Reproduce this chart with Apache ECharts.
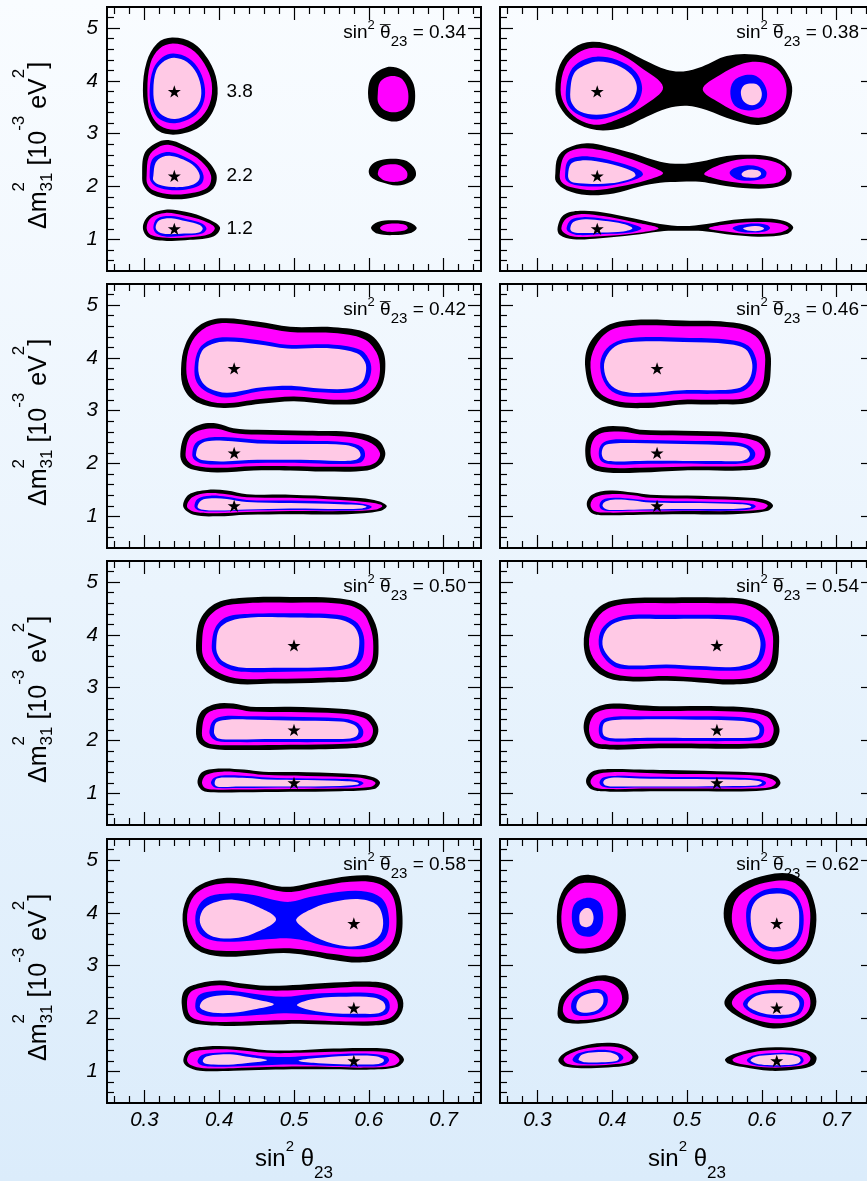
<!DOCTYPE html>
<html>
<head>
<meta charset="utf-8">
<script src="https://cdn.jsdelivr.net/npm/echarts@6/dist/echarts.min.js"></script>
<style>
  html, body { margin: 0; padding: 0; }
  #chart { width: 867px; height: 1181px; background: linear-gradient(to bottom, #f9fcff 0%, #dbecfb 100%); }
</style>
</head>
<body>
<div id="chart"></div>
<script>
// ---- panel parameters -------------------------------------------------------
const THETA_BAR = [0.34, 0.38, 0.42, 0.46, 0.50, 0.54, 0.58, 0.62];
const DM31_TRUE = [1.2, 2.2, 3.8];

// ---- axes ---------------------------------------------------------------------
const X_RANGE = [0.25, 0.75];
const Y_RANGE = [0.4, 5.4];
const X_MAJOR = [0.3, 0.4, 0.5, 0.6, 0.7];
const X_MINOR = [0.26, 0.28, 0.32, 0.34, 0.36, 0.38, 0.42, 0.44, 0.46, 0.48, 0.52, 0.54, 0.56, 0.58, 0.62, 0.64, 0.66, 0.68, 0.72, 0.74];
const Y_MAJOR = [1, 2, 3, 4, 5];
const Y_MINOR = [0.6, 0.8, 1.2, 1.4, 1.6, 1.8, 2.2, 2.4, 2.6, 2.8, 3.2, 3.4, 3.6, 3.8, 4.2, 4.4, 4.6, 4.8, 5.2];

// ---- allowed regions: [band, closed outline] ; band 3 = outermost ... 0 = innermost
const C034 = [
  [3, [[0.298,3.82],[0.303,4.36],[0.317,4.71],[0.337,4.82],[0.365,4.72],[0.386,4.39],[0.397,3.98],[0.395,3.54],[0.377,3.16],[0.346,2.99],[0.319,3.05],[0.303,3.38]]],
  [2, [[0.304,3.82],[0.308,4.33],[0.320,4.61],[0.338,4.71],[0.362,4.61],[0.380,4.33],[0.390,3.96],[0.387,3.56],[0.371,3.25],[0.345,3.08],[0.321,3.15],[0.308,3.41]]],
  [1, [[0.307,3.82],[0.312,4.23],[0.324,4.45],[0.339,4.52],[0.359,4.43],[0.374,4.19],[0.381,3.85],[0.378,3.55],[0.365,3.32],[0.341,3.20],[0.321,3.27],[0.310,3.48]]],
  [0, [[0.312,3.82],[0.316,4.20],[0.327,4.38],[0.340,4.44],[0.357,4.36],[0.370,4.14],[0.376,3.83],[0.373,3.57],[0.361,3.38],[0.341,3.28],[0.324,3.35],[0.315,3.52]]],
  [3, [[0.297,2.21],[0.300,2.62],[0.315,2.82],[0.332,2.88],[0.353,2.78],[0.379,2.56],[0.396,2.24],[0.392,1.96],[0.368,1.80],[0.337,1.76],[0.310,1.85],[0.299,2.02]]],
  [2, [[0.303,2.21],[0.306,2.57],[0.318,2.74],[0.332,2.79],[0.352,2.69],[0.376,2.48],[0.389,2.21],[0.385,1.99],[0.365,1.88],[0.337,1.85],[0.312,1.93],[0.304,2.05]]],
  [1, [[0.307,2.21],[0.310,2.50],[0.321,2.62],[0.335,2.65],[0.353,2.57],[0.370,2.42],[0.379,2.21],[0.376,2.05],[0.361,1.96],[0.337,1.93],[0.317,1.99],[0.309,2.09]]],
  [0, [[0.312,2.21],[0.315,2.45],[0.324,2.56],[0.336,2.58],[0.352,2.51],[0.367,2.38],[0.374,2.21],[0.371,2.09],[0.359,2.01],[0.337,1.99],[0.319,2.04],[0.312,2.12]]],
  [3, [[0.298,1.22],[0.306,1.45],[0.328,1.56],[0.355,1.52],[0.384,1.39],[0.401,1.23],[0.393,1.06],[0.361,0.99],[0.330,0.97],[0.306,1.03]]],
  [2, [[0.303,1.22],[0.309,1.41],[0.328,1.50],[0.353,1.45],[0.379,1.35],[0.394,1.22],[0.387,1.10],[0.361,1.04],[0.330,1.03],[0.309,1.08]]],
  [1, [[0.312,1.23],[0.317,1.39],[0.335,1.44],[0.357,1.38],[0.377,1.30],[0.383,1.20],[0.377,1.11],[0.355,1.07],[0.330,1.05],[0.316,1.11]]],
  [0, [[0.315,1.23],[0.320,1.36],[0.336,1.40],[0.356,1.34],[0.374,1.27],[0.378,1.20],[0.373,1.13],[0.353,1.11],[0.331,1.10],[0.319,1.14]]],
  [3, [[0.599,3.75],[0.604,4.07],[0.624,4.26],[0.644,4.21],[0.658,4.00],[0.662,3.73],[0.658,3.44],[0.640,3.24],[0.618,3.29],[0.604,3.48]]],
  [2, [[0.612,3.75],[0.615,3.98],[0.628,4.09],[0.642,4.06],[0.650,3.92],[0.653,3.71],[0.650,3.51],[0.638,3.41],[0.622,3.44],[0.613,3.57]]],
  [3, [[0.600,2.31],[0.607,2.45],[0.624,2.52],[0.647,2.50],[0.660,2.37],[0.663,2.21],[0.656,2.09],[0.638,2.02],[0.615,2.09],[0.603,2.18]]],
  [2, [[0.612,2.24],[0.616,2.37],[0.629,2.42],[0.642,2.40],[0.651,2.28],[0.650,2.15],[0.638,2.09],[0.622,2.11],[0.615,2.17]]],
  [3, [[0.603,1.22],[0.612,1.33],[0.633,1.36],[0.653,1.33],[0.664,1.22],[0.656,1.12],[0.633,1.08],[0.611,1.11]]],
  [2, [[0.615,1.22],[0.622,1.28],[0.636,1.30],[0.649,1.27],[0.652,1.21],[0.646,1.16],[0.631,1.14],[0.619,1.16]]]
];

const C038 = [
  [3, [[0.324,3.83],[0.330,4.30],[0.348,4.62],[0.373,4.74],[0.406,4.65],[0.442,4.40],[0.473,4.21],[0.495,4.18],[0.520,4.27],[0.553,4.47],[0.589,4.50],[0.620,4.37],[0.638,4.02],[0.640,3.73],[0.629,3.36],[0.598,3.17],[0.562,3.26],[0.526,3.45],[0.500,3.53],[0.473,3.48],[0.446,3.32],[0.415,3.12],[0.379,3.07],[0.348,3.23],[0.330,3.51]]],
  [2, [[0.331,3.83],[0.337,4.27],[0.353,4.52],[0.375,4.63],[0.406,4.54],[0.437,4.27],[0.468,3.88],[0.442,3.53],[0.410,3.29],[0.379,3.17],[0.353,3.29],[0.337,3.53]]],
  [2, [[0.521,3.84],[0.544,4.11],[0.575,4.33],[0.602,4.35],[0.624,4.18],[0.633,3.86],[0.627,3.51],[0.602,3.31],[0.575,3.36],[0.544,3.58]]],
  [1, [[0.338,3.80],[0.344,4.18],[0.359,4.38],[0.379,4.46],[0.406,4.40],[0.431,4.18],[0.440,3.86],[0.431,3.54],[0.406,3.36],[0.379,3.27],[0.355,3.36],[0.341,3.54]]],
  [1, [[0.558,3.75],[0.562,3.99],[0.578,4.11],[0.593,4.09],[0.604,3.92],[0.607,3.70],[0.600,3.51],[0.582,3.44],[0.564,3.53]]],
  [0, [[0.344,3.80],[0.349,4.14],[0.364,4.30],[0.382,4.37],[0.406,4.30],[0.426,4.11],[0.433,3.86],[0.425,3.59],[0.404,3.42],[0.379,3.36],[0.357,3.42],[0.346,3.58]]],
  [0, [[0.572,3.77],[0.575,3.90],[0.584,3.95],[0.595,3.92],[0.600,3.77],[0.597,3.61],[0.587,3.54],[0.576,3.61]]],
  [3, [[0.324,2.25],[0.327,2.55],[0.339,2.72],[0.366,2.82],[0.393,2.76],[0.428,2.63],[0.464,2.47],[0.491,2.43],[0.517,2.47],[0.553,2.58],[0.589,2.60],[0.620,2.53],[0.639,2.31],[0.636,2.09],[0.611,1.97],[0.575,1.97],[0.544,2.03],[0.517,2.09],[0.491,2.09],[0.464,2.07],[0.437,2.00],[0.402,1.87],[0.366,1.84],[0.339,1.93],[0.325,2.09]]],
  [2, [[0.330,2.25],[0.337,2.60],[0.357,2.72],[0.384,2.69],[0.419,2.55],[0.451,2.38],[0.468,2.25],[0.446,2.12],[0.410,2.00],[0.375,1.93],[0.344,1.99],[0.332,2.09]]],
  [2, [[0.523,2.24],[0.544,2.41],[0.575,2.52],[0.607,2.50],[0.629,2.38],[0.632,2.22],[0.620,2.07],[0.589,2.05],[0.558,2.09],[0.535,2.16]]],
  [1, [[0.337,2.22],[0.341,2.49],[0.357,2.57],[0.379,2.55],[0.410,2.45],[0.437,2.31],[0.441,2.22],[0.428,2.12],[0.402,2.03],[0.375,2.00],[0.350,2.03],[0.339,2.11]]],
  [1, [[0.557,2.25],[0.562,2.34],[0.578,2.40],[0.595,2.38],[0.606,2.28],[0.603,2.16],[0.584,2.11],[0.566,2.14]]],
  [0, [[0.341,2.22],[0.345,2.43],[0.357,2.49],[0.379,2.48],[0.408,2.39],[0.428,2.28],[0.431,2.20],[0.419,2.12],[0.397,2.06],[0.373,2.05],[0.350,2.07],[0.343,2.12]]],
  [0, [[0.573,2.24],[0.578,2.30],[0.587,2.32],[0.597,2.29],[0.599,2.23],[0.592,2.17],[0.582,2.17],[0.575,2.19]]],
  [3, [[0.327,1.22],[0.335,1.46],[0.357,1.54],[0.388,1.51],[0.428,1.40],[0.464,1.29],[0.495,1.25],[0.526,1.29],[0.562,1.37],[0.598,1.40],[0.629,1.35],[0.642,1.23],[0.633,1.10],[0.598,1.05],[0.562,1.08],[0.526,1.15],[0.495,1.16],[0.464,1.15],[0.428,1.08],[0.384,1.02],[0.348,1.00],[0.330,1.08]]],
  [2, [[0.332,1.21],[0.339,1.40],[0.359,1.48],[0.388,1.44],[0.428,1.33],[0.462,1.21],[0.428,1.11],[0.384,1.06],[0.350,1.05],[0.337,1.11]]],
  [2, [[0.529,1.21],[0.562,1.30],[0.598,1.33],[0.624,1.30],[0.636,1.22],[0.624,1.13],[0.593,1.10],[0.562,1.13]]],
  [1, [[0.339,1.21],[0.345,1.37],[0.361,1.42],[0.388,1.39],[0.419,1.32],[0.439,1.21],[0.424,1.13],[0.388,1.10],[0.355,1.08],[0.343,1.13]]],
  [1, [[0.561,1.21],[0.571,1.27],[0.591,1.30],[0.607,1.27],[0.611,1.21],[0.604,1.15],[0.587,1.13],[0.569,1.15]]],
  [0, [[0.344,1.21],[0.348,1.33],[0.364,1.38],[0.388,1.35],[0.415,1.29],[0.427,1.21],[0.415,1.15],[0.386,1.13],[0.357,1.12],[0.346,1.15]]],
  [0, [[0.575,1.21],[0.582,1.24],[0.592,1.25],[0.601,1.23],[0.603,1.20],[0.597,1.16],[0.584,1.16],[0.578,1.18]]]
];

const C042 = [
  [3, [[0.349,3.79],[0.355,4.26],[0.373,4.61],[0.402,4.75],[0.451,4.69],[0.495,4.59],[0.553,4.58],[0.598,4.47],[0.618,4.17],[0.622,3.79],[0.615,3.41],[0.593,3.16],[0.553,3.12],[0.500,3.18],[0.455,3.13],[0.406,3.05],[0.370,3.16],[0.353,3.41]]],
  [2, [[0.356,3.79],[0.361,4.23],[0.377,4.53],[0.404,4.66],[0.451,4.59],[0.495,4.49],[0.553,4.47],[0.593,4.36],[0.610,4.11],[0.615,3.79],[0.609,3.46],[0.589,3.25],[0.553,3.21],[0.500,3.27],[0.455,3.22],[0.406,3.14],[0.375,3.24],[0.361,3.46]]],
  [1, [[0.367,3.82],[0.373,4.17],[0.388,4.34],[0.410,4.39],[0.451,4.34],[0.491,4.25],[0.553,4.25],[0.589,4.15],[0.601,3.95],[0.603,3.73],[0.595,3.48],[0.575,3.35],[0.535,3.35],[0.500,3.39],[0.455,3.37],[0.410,3.25],[0.384,3.35],[0.370,3.54]]],
  [0, [[0.372,3.82],[0.377,4.13],[0.390,4.26],[0.411,4.31],[0.451,4.26],[0.491,4.18],[0.551,4.18],[0.584,4.09],[0.595,3.92],[0.596,3.73],[0.590,3.52],[0.573,3.42],[0.535,3.42],[0.500,3.47],[0.455,3.44],[0.411,3.34],[0.387,3.42],[0.376,3.57]]],
  [3, [[0.348,2.18],[0.355,2.56],[0.375,2.74],[0.397,2.76],[0.419,2.67],[0.451,2.64],[0.517,2.62],[0.580,2.59],[0.611,2.46],[0.622,2.21],[0.616,1.99],[0.598,1.87],[0.540,1.85],[0.495,1.87],[0.446,1.87],[0.397,1.83],[0.366,1.88],[0.352,1.99]]],
  [2, [[0.355,2.18],[0.361,2.51],[0.377,2.64],[0.397,2.66],[0.419,2.58],[0.451,2.55],[0.517,2.53],[0.575,2.50],[0.604,2.38],[0.615,2.19],[0.609,2.02],[0.593,1.95],[0.540,1.94],[0.495,1.95],[0.446,1.95],[0.397,1.92],[0.368,1.96],[0.358,2.05]]],
  [1, [[0.364,2.17],[0.368,2.38],[0.382,2.48],[0.406,2.50],[0.451,2.45],[0.517,2.43],[0.571,2.40],[0.591,2.31],[0.595,2.15],[0.589,2.02],[0.562,1.99],[0.509,2.01],[0.451,2.01],[0.406,1.98],[0.377,2.00],[0.367,2.07]]],
  [0, [[0.369,2.17],[0.373,2.34],[0.384,2.42],[0.406,2.43],[0.451,2.38],[0.517,2.37],[0.569,2.35],[0.585,2.27],[0.589,2.15],[0.583,2.07],[0.562,2.05],[0.509,2.07],[0.451,2.07],[0.406,2.04],[0.379,2.06],[0.371,2.11]]],
  [3, [[0.352,1.18],[0.359,1.41],[0.384,1.50],[0.410,1.49],[0.437,1.42],[0.495,1.41],[0.562,1.37],[0.607,1.31],[0.624,1.20],[0.615,1.10],[0.571,1.04],[0.495,1.04],[0.437,1.03],[0.397,1.00],[0.366,1.03]]],
  [2, [[0.357,1.18],[0.364,1.36],[0.384,1.44],[0.410,1.42],[0.437,1.36],[0.495,1.35],[0.562,1.31],[0.602,1.26],[0.618,1.20],[0.610,1.13],[0.571,1.10],[0.495,1.10],[0.437,1.08],[0.397,1.06],[0.368,1.08]]],
  [1, [[0.367,1.18],[0.371,1.33],[0.388,1.39],[0.410,1.37],[0.437,1.31],[0.495,1.30],[0.562,1.27],[0.595,1.23],[0.604,1.18],[0.597,1.13],[0.562,1.11],[0.495,1.12],[0.437,1.11],[0.397,1.09],[0.373,1.11]]],
  [0, [[0.371,1.18],[0.376,1.30],[0.390,1.34],[0.410,1.33],[0.437,1.27],[0.495,1.25],[0.562,1.23],[0.591,1.21],[0.597,1.18],[0.591,1.15],[0.562,1.14],[0.495,1.15],[0.437,1.13],[0.397,1.11],[0.376,1.13]]]
];

const C046 = [
  [3, [[0.364,3.82],[0.369,4.26],[0.393,4.61],[0.428,4.72],[0.495,4.71],[0.562,4.67],[0.595,4.52],[0.610,4.17],[0.612,3.79],[0.607,3.41],[0.586,3.16],[0.540,3.12],[0.495,3.12],[0.442,3.05],[0.402,3.10],[0.375,3.32]]],
  [2, [[0.371,3.82],[0.377,4.21],[0.397,4.52],[0.428,4.61],[0.495,4.60],[0.562,4.57],[0.591,4.42],[0.603,4.14],[0.604,3.79],[0.599,3.44],[0.582,3.25],[0.540,3.21],[0.495,3.21],[0.442,3.15],[0.404,3.19],[0.381,3.38]]],
  [1, [[0.384,3.82],[0.389,4.11],[0.406,4.31],[0.437,4.39],[0.495,4.38],[0.558,4.34],[0.582,4.23],[0.592,4.00],[0.593,3.76],[0.587,3.51],[0.571,3.35],[0.535,3.32],[0.495,3.32],[0.446,3.27],[0.410,3.30],[0.392,3.48]]],
  [0, [[0.389,3.82],[0.394,4.07],[0.408,4.25],[0.437,4.31],[0.495,4.30],[0.557,4.26],[0.578,4.17],[0.586,3.97],[0.587,3.76],[0.581,3.54],[0.567,3.42],[0.535,3.39],[0.495,3.39],[0.446,3.34],[0.413,3.37],[0.396,3.52]]],
  [3, [[0.364,2.21],[0.369,2.53],[0.388,2.69],[0.415,2.70],[0.437,2.64],[0.495,2.62],[0.562,2.59],[0.598,2.50],[0.610,2.31],[0.611,2.12],[0.602,1.93],[0.571,1.87],[0.495,1.87],[0.437,1.83],[0.393,1.83],[0.370,1.93]]],
  [2, [[0.371,2.21],[0.376,2.48],[0.390,2.59],[0.415,2.60],[0.437,2.55],[0.495,2.53],[0.562,2.50],[0.593,2.42],[0.603,2.28],[0.603,2.12],[0.595,1.99],[0.571,1.95],[0.495,1.94],[0.437,1.92],[0.395,1.92],[0.377,1.99]]],
  [1, [[0.382,2.19],[0.386,2.37],[0.400,2.45],[0.428,2.45],[0.495,2.43],[0.562,2.41],[0.582,2.34],[0.591,2.21],[0.589,2.09],[0.578,2.01],[0.540,1.99],[0.495,2.00],[0.437,1.99],[0.402,1.98],[0.386,2.04]]],
  [0, [[0.386,2.19],[0.390,2.34],[0.402,2.38],[0.428,2.39],[0.495,2.37],[0.562,2.34],[0.579,2.29],[0.584,2.19],[0.582,2.11],[0.573,2.05],[0.540,2.05],[0.495,2.05],[0.437,2.05],[0.404,2.04],[0.390,2.07]]],
  [3, [[0.366,1.23],[0.373,1.41],[0.397,1.49],[0.428,1.45],[0.451,1.41],[0.517,1.39],[0.584,1.35],[0.607,1.30],[0.615,1.20],[0.607,1.10],[0.562,1.04],[0.495,1.04],[0.437,1.03],[0.393,1.02],[0.373,1.06]]],
  [2, [[0.371,1.22],[0.377,1.36],[0.397,1.42],[0.428,1.40],[0.451,1.35],[0.517,1.33],[0.584,1.30],[0.602,1.25],[0.608,1.20],[0.601,1.13],[0.562,1.10],[0.495,1.10],[0.437,1.08],[0.393,1.07],[0.376,1.10]]],
  [1, [[0.383,1.21],[0.387,1.31],[0.402,1.35],[0.428,1.33],[0.451,1.30],[0.517,1.28],[0.571,1.26],[0.588,1.23],[0.592,1.19],[0.587,1.14],[0.562,1.11],[0.495,1.11],[0.437,1.11],[0.397,1.10],[0.386,1.13]]],
  [0, [[0.387,1.21],[0.391,1.28],[0.404,1.32],[0.428,1.30],[0.451,1.26],[0.517,1.25],[0.571,1.23],[0.583,1.21],[0.586,1.18],[0.582,1.16],[0.562,1.14],[0.495,1.14],[0.437,1.13],[0.399,1.12],[0.390,1.15]]]
];

const C050 = [
  [3, [[0.369,3.79],[0.375,4.30],[0.397,4.61],[0.437,4.71],[0.495,4.72],[0.562,4.69],[0.593,4.55],[0.609,4.20],[0.613,3.79],[0.609,3.41],[0.589,3.16],[0.540,3.10],[0.473,3.08],[0.419,3.08],[0.388,3.25],[0.373,3.51]]],
  [2, [[0.377,3.79],[0.382,4.25],[0.402,4.52],[0.437,4.60],[0.495,4.61],[0.562,4.59],[0.590,4.45],[0.602,4.15],[0.606,3.79],[0.602,3.44],[0.584,3.24],[0.540,3.19],[0.473,3.17],[0.422,3.18],[0.394,3.33],[0.380,3.54]]],
  [1, [[0.390,3.79],[0.395,4.14],[0.410,4.34],[0.442,4.40],[0.495,4.41],[0.558,4.38],[0.582,4.26],[0.592,4.04],[0.594,3.77],[0.590,3.52],[0.575,3.37],[0.540,3.32],[0.473,3.30],[0.424,3.31],[0.402,3.43],[0.393,3.60]]],
  [0, [[0.396,3.79],[0.400,4.11],[0.414,4.26],[0.442,4.33],[0.495,4.33],[0.557,4.30],[0.578,4.19],[0.586,4.01],[0.587,3.77],[0.583,3.56],[0.572,3.44],[0.540,3.39],[0.473,3.38],[0.426,3.39],[0.406,3.49],[0.398,3.63]]],
  [3, [[0.369,2.18],[0.375,2.53],[0.395,2.69],[0.419,2.70],[0.442,2.64],[0.495,2.64],[0.562,2.60],[0.598,2.51],[0.611,2.31],[0.612,2.12],[0.602,1.92],[0.571,1.85],[0.495,1.83],[0.428,1.82],[0.388,1.85],[0.373,1.96]]],
  [2, [[0.377,2.18],[0.382,2.48],[0.397,2.59],[0.419,2.60],[0.442,2.55],[0.495,2.54],[0.562,2.51],[0.593,2.43],[0.604,2.28],[0.605,2.12],[0.597,1.98],[0.571,1.94],[0.495,1.92],[0.428,1.91],[0.390,1.93],[0.379,2.02]]],
  [1, [[0.387,2.18],[0.392,2.38],[0.406,2.46],[0.437,2.46],[0.495,2.45],[0.562,2.42],[0.583,2.35],[0.592,2.21],[0.591,2.07],[0.580,1.99],[0.540,1.97],[0.473,1.97],[0.419,1.97],[0.397,1.99],[0.389,2.07]]],
  [0, [[0.393,2.18],[0.396,2.34],[0.408,2.39],[0.437,2.40],[0.495,2.38],[0.562,2.36],[0.580,2.30],[0.586,2.20],[0.584,2.09],[0.575,2.04],[0.540,2.03],[0.473,2.03],[0.419,2.02],[0.399,2.04],[0.394,2.11]]],
  [3, [[0.371,1.22],[0.378,1.41],[0.402,1.47],[0.433,1.45],[0.459,1.41],[0.517,1.40],[0.584,1.36],[0.607,1.30],[0.615,1.20],[0.607,1.08],[0.562,1.04],[0.495,1.03],[0.428,1.02],[0.393,1.02],[0.377,1.06]]],
  [2, [[0.377,1.21],[0.383,1.35],[0.404,1.41],[0.433,1.39],[0.459,1.35],[0.517,1.33],[0.584,1.30],[0.603,1.25],[0.609,1.19],[0.602,1.12],[0.562,1.09],[0.495,1.08],[0.428,1.07],[0.393,1.07],[0.381,1.10]]],
  [1, [[0.389,1.21],[0.394,1.30],[0.408,1.34],[0.437,1.33],[0.464,1.30],[0.517,1.28],[0.571,1.27],[0.589,1.23],[0.593,1.19],[0.587,1.14],[0.562,1.11],[0.495,1.11],[0.428,1.10],[0.399,1.10],[0.392,1.13]]],
  [0, [[0.394,1.21],[0.397,1.28],[0.410,1.30],[0.437,1.29],[0.464,1.26],[0.517,1.25],[0.571,1.23],[0.584,1.21],[0.587,1.18],[0.583,1.16],[0.562,1.14],[0.495,1.13],[0.428,1.13],[0.402,1.12],[0.395,1.15]]]
];

const C054 = [
  [3, [[0.362,3.82],[0.368,4.26],[0.388,4.58],[0.419,4.69],[0.473,4.71],[0.540,4.71],[0.580,4.67],[0.607,4.49],[0.621,4.14],[0.623,3.79],[0.618,3.38],[0.598,3.13],[0.562,3.06],[0.517,3.10],[0.473,3.13],[0.428,3.12],[0.393,3.19],[0.370,3.44]]],
  [2, [[0.369,3.82],[0.375,4.21],[0.393,4.49],[0.422,4.59],[0.473,4.60],[0.540,4.60],[0.578,4.57],[0.602,4.39],[0.613,4.11],[0.615,3.79],[0.610,3.43],[0.593,3.22],[0.562,3.16],[0.517,3.19],[0.473,3.22],[0.428,3.21],[0.396,3.29],[0.378,3.49]]],
  [1, [[0.382,3.82],[0.386,4.11],[0.402,4.30],[0.428,4.38],[0.473,4.38],[0.540,4.38],[0.575,4.34],[0.594,4.20],[0.603,3.98],[0.605,3.76],[0.599,3.51],[0.584,3.36],[0.558,3.32],[0.517,3.34],[0.473,3.37],[0.428,3.35],[0.404,3.39],[0.389,3.57]]],
  [0, [[0.387,3.82],[0.391,4.07],[0.404,4.23],[0.428,4.30],[0.473,4.30],[0.540,4.30],[0.573,4.26],[0.590,4.14],[0.597,3.95],[0.598,3.76],[0.593,3.54],[0.581,3.44],[0.558,3.39],[0.517,3.41],[0.473,3.44],[0.428,3.42],[0.406,3.47],[0.394,3.61]]],
  [3, [[0.362,2.21],[0.368,2.53],[0.386,2.67],[0.410,2.70],[0.437,2.67],[0.473,2.65],[0.540,2.65],[0.584,2.62],[0.611,2.53],[0.622,2.31],[0.623,2.12],[0.613,1.90],[0.580,1.85],[0.517,1.85],[0.451,1.85],[0.397,1.83],[0.373,1.90]]],
  [2, [[0.369,2.21],[0.375,2.48],[0.388,2.58],[0.410,2.60],[0.437,2.57],[0.473,2.56],[0.540,2.56],[0.584,2.53],[0.607,2.45],[0.615,2.28],[0.615,2.12],[0.608,1.98],[0.580,1.94],[0.517,1.94],[0.451,1.94],[0.397,1.92],[0.376,1.97]]],
  [1, [[0.382,2.19],[0.386,2.38],[0.402,2.45],[0.437,2.46],[0.495,2.46],[0.562,2.45],[0.591,2.40],[0.602,2.28],[0.602,2.11],[0.593,2.01],[0.562,1.99],[0.495,1.99],[0.437,1.99],[0.402,1.98],[0.386,2.04]]],
  [0, [[0.387,2.19],[0.390,2.34],[0.404,2.39],[0.437,2.40],[0.495,2.40],[0.562,2.38],[0.588,2.34],[0.596,2.26],[0.596,2.12],[0.589,2.06],[0.562,2.05],[0.495,2.05],[0.437,2.05],[0.404,2.04],[0.390,2.08]]],
  [3, [[0.365,1.23],[0.373,1.41],[0.397,1.46],[0.437,1.45],[0.473,1.44],[0.540,1.42],[0.598,1.39],[0.618,1.33],[0.625,1.20],[0.618,1.09],[0.584,1.04],[0.517,1.04],[0.451,1.04],[0.397,1.03],[0.373,1.07]]],
  [2, [[0.371,1.22],[0.378,1.35],[0.399,1.40],[0.437,1.39],[0.473,1.37],[0.540,1.36],[0.598,1.33],[0.613,1.27],[0.619,1.20],[0.612,1.12],[0.584,1.09],[0.517,1.09],[0.451,1.09],[0.397,1.08],[0.377,1.11]]],
  [1, [[0.383,1.21],[0.388,1.30],[0.404,1.33],[0.437,1.32],[0.495,1.31],[0.562,1.30],[0.595,1.27],[0.605,1.22],[0.605,1.17],[0.598,1.13],[0.562,1.11],[0.495,1.11],[0.437,1.11],[0.402,1.10],[0.387,1.13]]],
  [0, [[0.388,1.21],[0.392,1.27],[0.406,1.30],[0.437,1.28],[0.495,1.27],[0.562,1.26],[0.593,1.24],[0.600,1.21],[0.599,1.18],[0.593,1.15],[0.562,1.14],[0.495,1.13],[0.437,1.13],[0.404,1.13],[0.391,1.15]]]
];

const C058 = [
  [3, [[0.351,3.87],[0.357,4.28],[0.374,4.53],[0.406,4.66],[0.446,4.62],[0.477,4.51],[0.499,4.50],[0.530,4.59],[0.575,4.70],[0.615,4.67],[0.637,4.43],[0.645,3.93],[0.640,3.42],[0.619,3.14],[0.588,3.06],[0.553,3.11],[0.517,3.20],[0.486,3.24],[0.446,3.20],[0.410,3.17],[0.379,3.24],[0.359,3.46]]],
  [2, [[0.357,3.87],[0.363,4.25],[0.380,4.47],[0.410,4.56],[0.446,4.52],[0.477,4.42],[0.499,4.40],[0.530,4.49],[0.575,4.59],[0.611,4.56],[0.631,4.34],[0.637,3.90],[0.632,3.46],[0.613,3.24],[0.586,3.17],[0.553,3.22],[0.517,3.30],[0.486,3.33],[0.446,3.30],[0.410,3.28],[0.381,3.33],[0.365,3.52]]],
  [1, [[0.368,3.87],[0.373,4.15],[0.388,4.32],[0.414,4.37],[0.446,4.34],[0.472,4.25],[0.495,4.21],[0.521,4.30],[0.562,4.40],[0.597,4.40],[0.619,4.25],[0.627,3.90],[0.623,3.55],[0.606,3.36],[0.579,3.31],[0.544,3.37],[0.513,3.48],[0.490,3.52],[0.464,3.50],[0.428,3.46],[0.392,3.48],[0.374,3.61]]],
  [0, [[0.374,3.87],[0.380,4.09],[0.397,4.21],[0.419,4.25],[0.446,4.15],[0.476,3.88],[0.446,3.61],[0.419,3.52],[0.392,3.55],[0.379,3.68]]],
  [0, [[0.503,3.88],[0.526,4.09],[0.553,4.21],[0.588,4.26],[0.611,4.15],[0.619,3.87],[0.615,3.58],[0.597,3.41],[0.570,3.37],[0.535,3.50],[0.513,3.71]]],
  [3, [[0.350,2.26],[0.354,2.54],[0.374,2.67],[0.401,2.72],[0.428,2.67],[0.464,2.62],[0.508,2.64],[0.553,2.68],[0.597,2.70],[0.628,2.64],[0.644,2.41],[0.645,2.16],[0.633,1.94],[0.606,1.87],[0.553,1.88],[0.508,1.90],[0.464,1.88],[0.419,1.86],[0.379,1.88],[0.357,1.97]]],
  [2, [[0.357,2.26],[0.361,2.49],[0.379,2.59],[0.401,2.63],[0.428,2.58],[0.464,2.53],[0.508,2.54],[0.553,2.58],[0.597,2.60],[0.624,2.54],[0.637,2.36],[0.638,2.16],[0.627,2.00],[0.604,1.95],[0.553,1.95],[0.508,1.97],[0.464,1.96],[0.419,1.94],[0.381,1.95],[0.362,2.04]]],
  [1, [[0.368,2.23],[0.372,2.43],[0.388,2.51],[0.410,2.53],[0.446,2.47],[0.486,2.41],[0.526,2.47],[0.570,2.49],[0.606,2.48],[0.624,2.38],[0.628,2.21],[0.622,2.07],[0.597,2.02],[0.553,2.04],[0.508,2.09],[0.486,2.10],[0.455,2.07],[0.419,2.04],[0.388,2.04],[0.372,2.11]]],
  [0, [[0.374,2.23],[0.380,2.36],[0.397,2.43],[0.419,2.44],[0.446,2.37],[0.473,2.27],[0.446,2.17],[0.419,2.11],[0.392,2.11],[0.379,2.16]]],
  [0, [[0.504,2.26],[0.530,2.38],[0.570,2.41],[0.606,2.40],[0.619,2.32],[0.622,2.19],[0.613,2.10],[0.588,2.09],[0.553,2.10],[0.521,2.16]]],
  [3, [[0.352,1.21],[0.359,1.40],[0.383,1.47],[0.419,1.47],[0.464,1.40],[0.508,1.40],[0.553,1.43],[0.597,1.44],[0.633,1.40],[0.647,1.23],[0.637,1.08],[0.597,1.03],[0.553,1.04],[0.508,1.04],[0.464,1.03],[0.419,1.01],[0.374,1.01],[0.357,1.09]]],
  [2, [[0.357,1.21],[0.363,1.36],[0.386,1.41],[0.419,1.41],[0.464,1.35],[0.508,1.35],[0.553,1.37],[0.597,1.38],[0.631,1.34],[0.641,1.21],[0.633,1.11],[0.597,1.07],[0.553,1.08],[0.508,1.09],[0.464,1.08],[0.419,1.06],[0.379,1.06],[0.362,1.12]]],
  [1, [[0.371,1.20],[0.377,1.31],[0.397,1.35],[0.419,1.36],[0.455,1.29],[0.486,1.27],[0.517,1.29],[0.562,1.33],[0.606,1.33],[0.624,1.28],[0.627,1.20],[0.619,1.11],[0.588,1.09],[0.553,1.10],[0.517,1.12],[0.486,1.13],[0.455,1.11],[0.419,1.09],[0.388,1.09],[0.374,1.13]]],
  [0, [[0.378,1.20],[0.383,1.28],[0.401,1.32],[0.419,1.32],[0.441,1.27],[0.464,1.21],[0.441,1.16],[0.419,1.13],[0.392,1.13],[0.381,1.15]]],
  [0, [[0.506,1.20],[0.530,1.25],[0.570,1.29],[0.606,1.29],[0.619,1.24],[0.620,1.19],[0.613,1.14],[0.588,1.13],[0.553,1.14],[0.526,1.16]]]
];

const C062 = [
  [3, [[0.326,3.93],[0.332,4.37],[0.350,4.66],[0.370,4.72],[0.393,4.62],[0.410,4.40],[0.418,4.06],[0.415,3.68],[0.399,3.36],[0.370,3.24],[0.344,3.27],[0.330,3.52]]],
  [2, [[0.332,3.93],[0.338,4.31],[0.353,4.53],[0.370,4.57],[0.390,4.51],[0.404,4.28],[0.407,3.96],[0.402,3.65],[0.388,3.42],[0.366,3.33],[0.346,3.37],[0.336,3.58]]],
  [1, [[0.346,3.92],[0.349,4.15],[0.359,4.26],[0.373,4.28],[0.384,4.18],[0.388,3.92],[0.384,3.68],[0.373,3.56],[0.357,3.58],[0.349,3.71]]],
  [0, [[0.356,3.92],[0.358,4.02],[0.364,4.09],[0.371,4.07],[0.375,3.93],[0.373,3.79],[0.366,3.73],[0.358,3.77]]],
  [3, [[0.549,3.99],[0.555,4.31],[0.575,4.56],[0.607,4.72],[0.638,4.74],[0.658,4.56],[0.669,4.25],[0.673,3.87],[0.667,3.42],[0.651,3.14],[0.624,3.03],[0.598,3.11],[0.571,3.36],[0.554,3.68]]],
  [2, [[0.560,3.96],[0.566,4.26],[0.584,4.47],[0.611,4.59],[0.640,4.59],[0.656,4.40],[0.664,4.09],[0.664,3.74],[0.658,3.39],[0.640,3.17],[0.620,3.12],[0.598,3.20],[0.575,3.42],[0.563,3.68]]],
  [1, [[0.579,3.93],[0.583,4.21],[0.598,4.40],[0.620,4.47],[0.640,4.40],[0.652,4.18],[0.656,3.87],[0.652,3.55],[0.638,3.33],[0.615,3.27],[0.598,3.35],[0.584,3.58]]],
  [0, [[0.585,3.92],[0.589,4.17],[0.601,4.32],[0.620,4.37],[0.638,4.32],[0.648,4.13],[0.650,3.87],[0.647,3.58],[0.634,3.41],[0.615,3.35],[0.600,3.42],[0.589,3.61]]],
  [3, [[0.327,2.13],[0.332,2.41],[0.353,2.67],[0.379,2.81],[0.402,2.79],[0.417,2.64],[0.422,2.38],[0.415,2.16],[0.397,2.00],[0.366,1.91],[0.339,1.92],[0.329,2.00]]],
  [2, [[0.334,2.15],[0.339,2.38],[0.357,2.60],[0.379,2.71],[0.397,2.68],[0.410,2.54],[0.413,2.32],[0.404,2.13],[0.386,2.02],[0.361,1.97],[0.341,2.00]]],
  [1, [[0.345,2.23],[0.350,2.41],[0.366,2.53],[0.384,2.55],[0.393,2.45],[0.393,2.26],[0.383,2.11],[0.366,2.05],[0.350,2.08]]],
  [0, [[0.352,2.23],[0.356,2.38],[0.368,2.47],[0.383,2.48],[0.388,2.40],[0.387,2.26],[0.379,2.15],[0.366,2.11],[0.355,2.14]]],
  [3, [[0.550,2.29],[0.560,2.51],[0.584,2.67],[0.615,2.74],[0.647,2.72],[0.667,2.57],[0.673,2.32],[0.667,2.07],[0.647,1.88],[0.615,1.81],[0.589,1.90],[0.562,2.09]]],
  [2, [[0.560,2.29],[0.569,2.48],[0.589,2.59],[0.615,2.64],[0.644,2.62],[0.661,2.49],[0.665,2.29],[0.660,2.10],[0.644,1.96],[0.618,1.91],[0.593,1.97],[0.571,2.12]]],
  [1, [[0.575,2.26],[0.582,2.41],[0.598,2.51],[0.620,2.54],[0.642,2.51],[0.655,2.38],[0.656,2.23],[0.649,2.07],[0.629,2.00],[0.607,2.02],[0.587,2.10]]],
  [0, [[0.581,2.25],[0.587,2.38],[0.600,2.46],[0.620,2.48],[0.640,2.45],[0.649,2.35],[0.650,2.23],[0.644,2.11],[0.627,2.07],[0.607,2.08],[0.591,2.15]]],
  [3, [[0.328,1.21],[0.339,1.37],[0.366,1.50],[0.397,1.54],[0.419,1.48],[0.435,1.28],[0.428,1.15],[0.402,1.08],[0.366,1.06],[0.337,1.09]]],
  [2, [[0.335,1.23],[0.345,1.34],[0.368,1.44],[0.397,1.47],[0.416,1.42],[0.427,1.28],[0.422,1.18],[0.399,1.13],[0.366,1.11],[0.341,1.14]]],
  [1, [[0.347,1.23],[0.355,1.34],[0.375,1.40],[0.395,1.40],[0.410,1.34],[0.415,1.25],[0.408,1.17],[0.388,1.14],[0.361,1.14],[0.350,1.17]]],
  [0, [[0.355,1.23],[0.360,1.32],[0.377,1.36],[0.395,1.36],[0.406,1.31],[0.409,1.24],[0.404,1.19],[0.386,1.17],[0.364,1.17],[0.357,1.20]]],
  [3, [[0.551,1.23],[0.566,1.34],[0.598,1.44],[0.633,1.45],[0.662,1.39],[0.673,1.27],[0.669,1.12],[0.647,1.04],[0.611,1.01],[0.575,1.08],[0.555,1.15]]],
  [2, [[0.561,1.23],[0.575,1.32],[0.602,1.39],[0.633,1.40],[0.658,1.35],[0.665,1.25],[0.661,1.15],[0.642,1.09],[0.611,1.07],[0.580,1.12],[0.564,1.17]]],
  [1, [[0.580,1.21],[0.589,1.30],[0.611,1.34],[0.633,1.35],[0.651,1.30],[0.656,1.21],[0.651,1.13],[0.631,1.09],[0.607,1.09],[0.588,1.13]]],
  [0, [[0.585,1.21],[0.593,1.28],[0.611,1.31],[0.633,1.32],[0.648,1.28],[0.652,1.21],[0.648,1.15],[0.631,1.12],[0.607,1.12],[0.592,1.15]]]
];

const PANEL_REGIONS = [C034, C038, C042, C046, C050, C054, C058, C062];

// ---- styling ----------------------------------------------------------------
const FONT = '"Liberation Sans", Arial, Helvetica, sans-serif';
const BAND_COLORS = ['#ffc9e5', '#0000ff', '#ff00ff', '#000000'];
const STAR = 'path://M50,0L61.8,35.1L98.8,35.1L68.9,56.8L80.3,91.9L50,70.2L19.7,91.9L31.1,56.8L1.2,35.1L38.2,35.1Z';
const GRID_LEFT = [107, 500];
const GRID_TOP = [7, 284, 561, 839];
const GRID_W = 374, GRID_H = 264;

const frameLine = { show: true, onZero: false, lineStyle: { color: '#000', width: 1.8 } };
const tickLine = { color: '#000', width: 1.2 };

function xAxis(g, pos, ticks, len, labels) {
  return {
    type: 'value', gridIndex: g, position: pos, min: X_RANGE[0], max: X_RANGE[1],
    axisLine: frameLine,
    axisTick: { show: true, inside: true, length: len, customValues: ticks, lineStyle: tickLine },
    axisLabel: labels ? {
      show: true, customValues: X_MAJOR, formatter: v => v.toFixed(1), margin: 7,
      fontFamily: FONT, fontStyle: 'italic', fontSize: 20.5, color: '#000'
    } : { show: false },
    splitLine: { show: false }
  };
}
function yAxis(g, pos, ticks, len, labels) {
  return {
    type: 'value', gridIndex: g, position: pos, min: Y_RANGE[0], max: Y_RANGE[1],
    axisLine: frameLine,
    axisTick: { show: true, inside: true, length: len, customValues: ticks, lineStyle: tickLine },
    axisLabel: labels ? {
      show: true, customValues: Y_MAJOR, formatter: v => String(v), margin: 9,
      fontFamily: FONT, fontStyle: 'italic', fontSize: 20.5, color: '#000'
    } : { show: false },
    splitLine: { show: false }
  };
}

// rich-text token: left-flowing, top-aligned, vertical centre at h/2 below the line top
function tok(size, h, extra) {
  return Object.assign({
    fontFamily: FONT, fontSize: size, height: h, lineHeight: h,
    verticalAlign: 'top', align: 'left', color: '#000'
  }, extra || {});
}
const annotRich = {
  n: tok(19, 20),
  bar: tok(19, 20, { width: 0 }),
  sp: tok(13, 4),
  sb: tok(15, 38)
};
const titleRich = {
  n: tok(24, 30),
  sp: tok(15, 6),
  sb: tok(17, 58)
};
const yTitleRich = {
  n: tok(25, 40),
  sp: tok(17, 1),
  sp0: tok(17, 1, { width: 0 }),
  sb: tok(17, 57)
};

const grids = [], xAxes = [], yAxes = [], series = [], graphics = [];

THETA_BAR.forEach((tb, g) => {
  const col = g % 2, row = Math.floor(g / 2);
  const left = GRID_LEFT[col], top = GRID_TOP[row];
  grids.push({ left: left, top: top, width: GRID_W, height: GRID_H, outerBoundsMode: 'none', containLabel: false });

  const bottomRow = row === GRID_TOP.length - 1;
  const leftCol = col === 0;
  xAxes.push(xAxis(g, 'bottom', X_MAJOR, 13, bottomRow));
  xAxes.push(xAxis(g, 'top', X_MAJOR, 13, false));
  xAxes.push(xAxis(g, 'bottom', X_MINOR, 7, false));
  xAxes.push(xAxis(g, 'top', X_MINOR, 7, false));
  yAxes.push(yAxis(g, 'left', Y_MAJOR, 13, leftCol));
  yAxes.push(yAxis(g, 'right', Y_MAJOR, 13, false));
  yAxes.push(yAxis(g, 'left', Y_MINOR, 7, false));
  yAxes.push(yAxis(g, 'right', Y_MINOR, 7, false));

  const regions = PANEL_REGIONS[g];
  series.push({
    type: 'custom', coordinateSystem: 'cartesian2d', xAxisIndex: 4 * g, yAxisIndex: 4 * g,
    silent: true, z: 2, clip: false,
    data: regions.map(r => r[1][0]),
    renderItem: (params, api) => {
      const [band, pts] = regions[params.dataIndex];
      return {
        type: 'polygon',
        shape: { points: pts.map(p => api.coord(p)), smooth: 0.35 },
        style: { fill: BAND_COLORS[band] }
      };
    }
  });

  // best-fit points
  series.push({
    type: 'scatter', xAxisIndex: 4 * g, yAxisIndex: 4 * g, z: 5, silent: true,
    symbol: STAR, symbolSize: 13, symbolKeepAspect: true,
    itemStyle: { color: '#000', opacity: 1 },
    data: DM31_TRUE.map(v => [tb, v])
  });

  // panel annotation
  graphics.push({
    type: 'text', x: left + GRID_W - 15, y: top + 16, z: 100,
    style: {
      text: '{n|sin}{sp|2}{n| }{bar|¯}{n|θ}{sb|23}{n| = ' + tb.toFixed(2) + '}',
      align: 'right', verticalAlign: 'top', rich: annotRich
    }
  });

  // vertical axis title, written bottom-to-top starting from its anchor
  if (leftCol) {
    graphics.push({
      type: 'text', x: 19, y: top + 222, rotation: Math.PI / 2, z: 100,
      style: {
        text: '{n|Δm}{sp0|2}{sb|31}{n| [10}{sp|-3}{n| eV}{sp|2}{n|]}',
        align: 'left', verticalAlign: 'top', rich: yTitleRich
      }
    });
  }
  if (bottomRow) {
    graphics.push({
      type: 'text', x: left + GRID_W / 2, y: 1144, z: 100,
      style: {
        text: '{n|sin}{sp|2}{n| θ}{sb|23}',
        align: 'center', verticalAlign: 'top', rich: titleRich
      }
    });
  }
});

// true Δm²31 values written next to the first panel's best-fit points
series.push({
  type: 'scatter', xAxisIndex: 0, yAxisIndex: 0, z: 5, silent: true,
  symbolSize: 0, itemStyle: { color: 'rgba(0,0,0,0)', opacity: 1 },
  label: {
    show: true, position: 'right', distance: 2,
    formatter: p => p.value[1].toFixed(1),
    fontFamily: FONT, fontSize: 19, color: '#000'
  },
  data: DM31_TRUE.map(v => [0.407, v])
});

const chart = echarts.init(document.getElementById('chart'), null, { renderer: 'canvas', width: 867, height: 1181 });
chart.setOption({
  animation: false,
  backgroundColor: 'transparent',
  grid: grids,
  xAxis: xAxes,
  yAxis: yAxes,
  series: series,
  graphic: graphics
});
</script>
</body>
</html>
